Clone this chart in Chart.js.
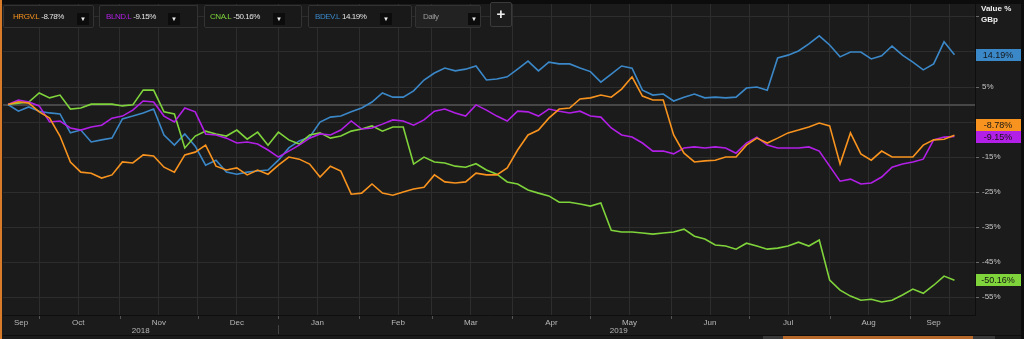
<!DOCTYPE html>
<html>
<head>
<meta charset="utf-8">
<title>HRGV.L / BLND.L / CNA.L / BDEV.L</title>
<script src="https://cdn.jsdelivr.net/npm/chart.js@4.4.1/dist/chart.umd.min.js"></script>
<style>
    html, body { margin: 0; padding: 0; background: #0d0d0d; }
    #wrap { position: relative; width: 1024px; height: 339px; overflow: hidden; }
    #chart { position: absolute; left: 0; top: 0; }
    .sel {
        position: absolute; top: 5px; height: 23px; box-sizing: border-box;
        background: #191919; border: 1px solid #333; border-radius: 2px;
        font: 8px "Liberation Sans", Arial, sans-serif; letter-spacing: -0.45px; color: #e8e8e8;
        line-height: 22px; white-space: nowrap;
    }
    .sel .sym { position: absolute; left: 9px; }
    .sel .val { color: #e2e2e2; margin-left: 2px; }
    .sel .btn {
        position: absolute; top: 7px; width: 12px; height: 12px; background: #0c0c0c;
        color: #eee; font-size: 6px; letter-spacing: 0; line-height: 12px; text-align: center;
    }
    #plus {
        position: absolute; left: 490px; top: 2px; width: 22px; height: 25px; box-sizing: border-box;
        background: #1d1d1d; border: 1px solid #3a3a3a; border-radius: 2px;
        color: #eee; font: bold 15px "Liberation Sans", Arial, sans-serif; line-height: 22px; text-align: center;
    }
</style>
</head>
<body>
<div id="wrap">
    <canvas id="chart" width="1024" height="339"></canvas>
    <div class="sel" style="left:3px;width:91px"><span class="sym" style="color:#f7931e">HRGV.L<span class="val">-8.78%</span></span><span class="btn" style="left:73px">&#9660;</span></div>
    <div class="sel" style="left:99px;width:99px"><span class="sym" style="left:6px;color:#b21fe6">BLND.L<span class="val">-9.15%</span></span><span class="btn" style="left:68px">&#9660;</span></div>
    <div class="sel" style="left:204px;width:98px"><span class="sym" style="left:5px;color:#7fd33b">CNA.L<span class="val">-50.16%</span></span><span class="btn" style="left:68px">&#9660;</span></div>
    <div class="sel" style="left:308px;width:104px"><span class="sym" style="left:6px;color:#3b88c9">BDEV.L<span class="val">14.19%</span></span><span class="btn" style="left:71px">&#9660;</span></div>
    <div class="sel" style="left:415px;width:66px;background:#222"><span class="sym" style="left:7px;color:#9a9a9a">Daily</span><span class="btn" style="left:52px">&#9660;</span></div>
    <div id="plus">+</div>
</div>
<script>
// series: % change since start, one value every 4 calendar days
const seriesNames = ["HRGV.L", "BLND.L", "CNA.L", "BDEV.L"];
const seriesColors = ["#f7931e", "#b21fe6", "#7fd33b", "#3b88c9"];
const startDate = "2018-09-19";
const stepDays = 4;

const hrgv = [
    0, 0.8, 0.4, -2.1, -3.9, -9.0, -16.4, -19.3, -19.6, -21.0,
    -20.1, -16.4, -16.7, -14.4, -14.7, -17.9, -19.3, -14.4, -13.6, -11.6,
    -17.6, -18.7, -18.1, -20.1, -18.7, -19.9, -17.3, -15.0, -15.6, -17.0,
    -20.7, -17.6, -19.0, -25.6, -25.3, -22.7, -25.3, -25.9, -25.0, -24.1,
    -23.6, -20.1, -22.1, -22.4, -22.1, -19.6, -20.1, -20.1, -18.1, -13.0,
    -8.7, -7.3, -3.9, -1.3, -1.0, 1.6, 1.9, 2.7, 2.1, 4.4,
    7.9, 2.4, 1.3, 1.3, -8.7, -13.9, -16.4, -16.1, -15.9, -15.0,
    -15.0, -11.6, -9.6, -11.0, -9.6, -8.1, -7.3, -6.4, -5.3, -6.1,
    -17.0, -8.1, -14.1, -15.9, -13.3, -15.0, -15.0, -15.0, -11.6, -10.1,
    -9.9, -8.78
];
const blnd = [
    0, 1.3, 0.7, -0.4, -5.0, -4.7, -6.7, -7.3, -6.4, -5.9,
    -3.9, -3.3, -1.6, 1.0, 0.7, -3.3, -5.0, -1.0, -2.1, -8.4,
    -8.7, -9.6, -11.0, -10.7, -11.3, -13.0, -15.0, -13.3, -11.6, -9.6,
    -8.4, -8.7, -7.3, -4.7, -7.0, -6.7, -5.6, -4.4, -4.7, -5.9,
    -4.4, -1.9, -1.3, -2.4, -3.3, -0.1, -1.6, -3.3, -4.7, -1.9,
    -2.1, -3.3, -1.3, -1.9, -2.4, -1.9, -3.3, -3.6, -6.7, -8.7,
    -9.3, -11.0, -13.3, -13.3, -14.1, -12.4, -12.1, -12.4, -12.1, -12.4,
    -13.9, -11.0, -9.3, -11.6, -12.4, -12.4, -12.4, -12.1, -13.3, -17.6,
    -21.9, -21.3, -22.7, -22.4, -20.7, -17.9, -17.0, -16.4, -15.6, -10.1,
    -9.3, -9.15
];
const cna = [
    0, 0.4, 0.7, 3.3, 1.9, 2.7, -1.3, -1.0, 0.1, 0.1,
    0.1, -0.4, -0.1, 4.1, 4.1, -2.1, -2.7, -12.4, -9.0, -7.6,
    -8.4, -9.0, -7.3, -9.9, -7.9, -11.6, -7.9, -10.1, -11.3, -8.7,
    -8.1, -9.6, -9.0, -7.6, -7.0, -6.1, -7.6, -6.4, -6.4, -17.0,
    -15.0, -16.4, -16.7, -17.6, -17.9, -16.9, -18.7, -19.9, -22.1, -22.7,
    -24.4, -25.3, -26.1, -27.9, -27.9, -28.4, -29.0, -28.1, -35.9, -36.4,
    -36.4, -36.7, -37.0, -36.7, -36.4, -35.6, -37.6, -38.4, -40.1, -40.4,
    -41.3, -39.6, -40.4, -41.3, -41.0, -40.4, -39.3, -40.4, -38.7, -50.1,
    -53.0, -54.7, -55.9, -55.6, -56.4, -55.9, -54.4, -52.7, -53.9, -51.6,
    -49.0, -50.16
];
const bdev = [
    0, -1.9, -0.7, -1.9, -2.4, -2.7, -8.1, -7.3, -10.7, -10.1,
    -9.6, -4.1, -3.3, -2.4, -1.3, -8.7, -11.6, -8.4, -11.9, -17.3,
    -15.9, -19.3, -19.9, -19.3, -19.0, -18.7, -15.9, -12.4, -10.4, -9.3,
    -5.0, -3.6, -3.3, -2.1, -1.0, 0.7, 3.3, 2.1, 2.1, 3.9,
    7.0, 9.0, 10.4, 9.6, 10.1, 11.0, 7.0, 7.3, 7.9, 10.1,
    12.4, 9.6, 12.1, 11.6, 11.6, 10.4, 9.4, 6.4, 8.7, 11.0,
    10.4, 4.1, 2.7, 3.0, 1.0, 2.1, 3.0, 1.9, 2.1, 1.9,
    2.1, 4.7, 5.0, 4.1, 13.3, 14.1, 15.3, 17.3, 19.6, 17.0,
    13.6, 15.0, 15.0, 13.0, 13.9, 16.7, 14.1, 12.1, 9.9, 11.6,
    17.9, 14.19
];

// x axis
const monthStarts = [
    "2018-10-01", "2018-11-01", "2018-12-01", "2019-01-01", "2019-02-01", "2019-03-01",
    "2019-04-01", "2019-05-01", "2019-06-01", "2019-07-01", "2019-08-01", "2019-09-01"
];
const midMonthGrid = [
    "2018-10-16", "2018-11-16", "2018-12-16", "2019-01-16", "2019-02-16", "2019-03-16",
    "2019-04-16", "2019-05-16", "2019-06-16", "2019-07-16", "2019-08-16", "2019-09-16"
];
const monthLabelDates = [
    "2018-09-24", "2018-10-16", "2018-11-16", "2018-12-16", "2019-01-16", "2019-02-16", "2019-03-16",
    "2019-04-16", "2019-05-16", "2019-06-16", "2019-07-16", "2019-08-16", "2019-09-10"
];
const monthLabels = ["Sep", "Oct", "Nov", "Dec", "Jan", "Feb", "Mar", "Apr", "May", "Jun", "Jul", "Aug", "Sep"];
const yearLabels = ["2018", "2019"];
const yearBreak = "2019-01-01";

// y axis (right)
const yTicks = [-55, -45, -35, -25, -15, -5, 0, 5, 15, 25];
const yMin = -60.1;
const yMax = 28.7;

const FONT = "'Liberation Sans', Arial, sans-serif";

function dayOf(s) {
    const [y, m, d] = s.split("-").map(Number);
    const [y0, m0, d0] = startDate.split("-").map(Number);
    return (Date.UTC(y, m - 1, d) - Date.UTC(y0, m0 - 1, d0)) / 86400000;
}

function toPoints(values) {
    return values.map((v, i) => ({ x: i * stepDays, y: v }));
}

// merged tick list for the date axis
const tickMap = new Map();
function addTick(day, props) {
    const t = tickMap.get(day) || { value: day, text: "", grid: false, mark: false };
    Object.assign(t, props);
    tickMap.set(day, t);
}
monthStarts.forEach(d => addTick(dayOf(d), { grid: true, mark: true }));
midMonthGrid.forEach(d => addTick(dayOf(d), { grid: true }));
monthLabelDates.forEach((d, i) => addTick(dayOf(d), { text: monthLabels[i] }));
const xTickList = [...tickMap.values()].sort((a, b) => a.value - b.value);

const allSeries = [hrgv, blnd, cna, bdev];

const backdrop = {
    id: "backdrop",
    beforeDraw(chart) {
        const { ctx, width, height } = chart;
        ctx.save();
        ctx.fillStyle = "#1b1b1b";
        ctx.fillRect(0, 0, width, height);
        ctx.fillStyle = "#0c0c0c";
        ctx.fillRect(0, 0, width, 4);
        ctx.fillRect(width - 3, 0, 3, height);
        ctx.restore();
    }
};

const extras = {
    id: "extras",
    afterDraw(chart) {
        const { ctx, chartArea } = chart;
        const xs = chart.scales.x;
        const ys = chart.scales.y;
        ctx.save();

        // bottom band lines, month ticks, year labels
        ctx.fillStyle = "#0e0e0e";
        ctx.fillRect(chartArea.left, 335, chartArea.right - chartArea.left + 46, 1);
        ctx.strokeStyle = "#555";
        ctx.lineWidth = 1;
        monthStarts.forEach(d => {
            const px = Math.round(xs.getPixelForValue(dayOf(d))) + 0.5;
            ctx.beginPath();
            ctx.moveTo(px, chartArea.bottom + 1);
            ctx.lineTo(px, chartArea.bottom + 4);
            ctx.stroke();
        });
        const breakPx = Math.round(xs.getPixelForValue(dayOf(yearBreak))) + 0.5;
        ctx.strokeStyle = "#444";
        ctx.beginPath();
        ctx.moveTo(breakPx, 325);
        ctx.lineTo(breakPx, 334);
        ctx.stroke();
        ctx.fillStyle = "#b8b8b8";
        ctx.font = "8px " + FONT;
        ctx.textAlign = "center";
        ctx.textBaseline = "middle";
        ctx.fillText(yearLabels[0], (chartArea.left + breakPx) / 2, 331);
        ctx.fillText(yearLabels[1], (breakPx + chartArea.right) / 2 - 8, 331);

        // navigator strip
        ctx.fillStyle = "#3a3a3a";
        ctx.fillRect(763, 336, 20, 3);
        ctx.fillRect(973, 336, 22, 3);
        ctx.fillStyle = "#b5682a";
        ctx.fillRect(783, 336, 190, 3);

        // header of the value axis
        ctx.fillStyle = "#f0f0f0";
        ctx.font = "bold 8px " + FONT;
        ctx.textAlign = "left";
        ctx.fillText("Value %", 981, 9);
        ctx.fillText("GBp", 981, 20);

        // last value tags, pushed apart where they overlap
        const tagH = 12;
        const tags = allSeries.map((vals, i) => {
            const v = vals[vals.length - 1];
            return { v, y: ys.getPixelForValue(v), color: seriesColors[i] };
        }).sort((a, b) => b.y - a.y);
        for (let i = 1; i < tags.length; i++) {
            if (tags[i - 1].y - tags[i].y < tagH) tags[i].y = tags[i - 1].y - tagH;
        }
        ctx.font = "9px " + FONT;
        ctx.textAlign = "center";
        tags.forEach(t => {
            ctx.fillStyle = t.color;
            ctx.fillRect(chartArea.right + 1, Math.round(t.y - tagH / 2), 45, tagH);
            ctx.fillStyle = "#151515";
            ctx.fillText(t.v.toFixed(2) + "%", chartArea.right + 23, Math.round(t.y) + 0.5);
        });

        // orange frame edge on the left
        ctx.fillStyle = "#d9792a";
        ctx.fillRect(0, 0, 2, chart.height);
        ctx.restore();
    }
};

new Chart(document.getElementById("chart"), {
    type: "line",
    data: {
        datasets: allSeries.map((vals, i) => ({
            label: seriesNames[i],
            data: toPoints(vals),
            borderColor: seriesColors[i],
            borderWidth: 1.6,
            pointRadius: 0,
            tension: 0,
            fill: false
        }))
    },
    options: {
        responsive: false,
        animation: false,
        events: [],
        layout: { padding: { left: 3, top: 4, right: 0, bottom: 0 } },
        plugins: { legend: { display: false }, tooltip: { enabled: false } },
        scales: {
            x: {
                type: "linear",
                min: -1.92,
                max: 371.9,
                afterBuildTicks: scale => { scale.ticks = xTickList.map(t => ({ ...t })); },
                afterFit: scale => {
                    scale.height = 24;
                    scale.paddingLeft = 0;
                    scale.paddingRight = 0;
                },
                border: { color: "#0e0e0e" },
                grid: {
                    drawTicks: false,
                    color: c => (c.tick && c.tick.grid ? "#2d2d2d" : "rgba(0,0,0,0)")
                },
                ticks: {
                    autoSkip: false,
                    maxRotation: 0,
                    padding: 3,
                    color: "#b8b8b8",
                    font: { family: FONT, size: 8 },
                    callback: (value, index, ticks) => ticks[index].text || ""
                }
            },
            y: {
                position: "right",
                min: yMin,
                max: yMax,
                afterBuildTicks: scale => { scale.ticks = yTicks.map(v => ({ value: v })); },
                afterFit: scale => {
                    scale.width = 49;
                    scale.paddingTop = 0;
                    scale.paddingBottom = 0;
                },
                border: { color: "#0e0e0e" },
                grid: {
                    color: c => (c.tick && c.tick.value === 0 ? "#474747" : "#2d2d2d"),
                    lineWidth: c => (c.tick && c.tick.value === 0 ? 2 : 1),
                    tickLength: 4,
                    tickColor: c => (c.tick && c.tick.value === 0 ? "rgba(0,0,0,0)" : "#6a6a6a")
                },
                ticks: {
                    padding: 3,
                    color: "#c4c4c4",
                    font: { family: FONT, size: 8 },
                    callback: v => (v === 0 || v === 25 ? "" : v + "%")
                }
            }
        }
    },
    plugins: [backdrop, extras]
});
</script>
</body>
</html>
